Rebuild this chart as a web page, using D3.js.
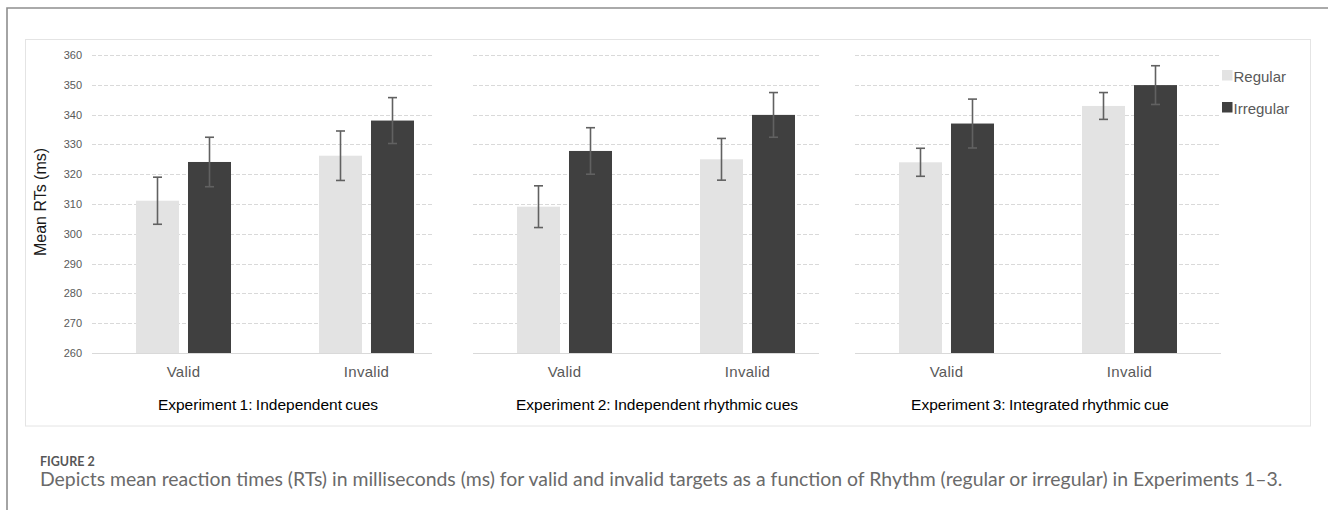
<!DOCTYPE html>
<html>
<head>
<meta charset="utf-8">
<script src="https://cdn.jsdelivr.net/npm/d3@7"></script>
<style>
  html, body { margin: 0; padding: 0; background: #fff; }
  svg { display: block; }
</style>
</head>
<body>
<svg id="chart" width="1328" height="510"></svg>
<script>
// ---------- DATA ----------
const experiments = ["Experiment 1: Independent cues", "Experiment 2: Independent rhythmic cues", "Experiment 3: Integrated rhythmic cue"];
const categories = ["Valid", "Invalid"];
const series = ["Regular", "Irregular"];
// mean RTs [experiment][category]
const regularMeans   = [[311.1, 326.2], [309.1, 325.0], [324.0, 342.9]];
const irregularMeans = [[324.1, 338.0], [327.8, 339.9], [337.0, 349.9]];
// error bar half-lengths
const regularErr     = [[7.9, 8.3], [7.0, 7.0], [4.7, 4.5]];
const irregularErr   = [[8.3, 7.7], [7.8, 7.5], [8.2, 6.5]];
const yTicks = [260, 270, 280, 290, 300, 310, 320, 330, 340, 350, 360];
const yAxisTitle = "Mean RTs (ms)";
const figLabel = "FIGURE 2";
const captionText = "Depicts mean reaction times (RTs) in milliseconds (ms) for valid and invalid targets as a function of Rhythm (regular or irregular) in Experiments 1\u20133.";

// ---------- LAYOUT ----------
const colors = { Regular: "#e3e3e3", Irregular: "#404040" };
const panelStart = [92, 473, 855];
const gridEnd = [432, 819, 1221];
const bandSpan = 366;
const titleCenter = [268, 657, 1040];
const font = "'Liberation Sans', Arial, sans-serif";

const svg = d3.select("#chart");

// outer frame (top + left)
svg.append("path").attr("d", "M7,510 V8 H1328").attr("fill", "none")
  .attr("stroke", "#8e8e8e").attr("stroke-width", 1.6);

// inner chart box
svg.append("rect").attr("x", 25.5).attr("y", 39.5).attr("width", 1285).attr("height", 386.5)
  .attr("fill", "#fff").attr("stroke", "#e4e4e4").attr("stroke-width", 1);

const y = d3.scaleLinear().domain([260, 360]).range([353, 55]);

// y axis labels
const yAxis = d3.axisLeft(y).tickValues(yTicks).tickSize(0).tickPadding(0).tickFormat(d3.format("d"));
const yg = svg.append("g").attr("transform", "translate(82,0)").call(yAxis);
yg.select(".domain").remove();
yg.selectAll("text").attr("font-family", font).attr("font-size", 11).attr("fill", "#595959");

svg.append("text")
  .attr("transform", `translate(46,${(55 + 353) / 2 - 2}) rotate(-90)`)
  .attr("text-anchor", "middle").attr("font-family", font).attr("font-size", 16)
  .attr("fill", "#1a1a1a").text(yAxisTitle);

experiments.forEach((exp, i) => {
  const g = svg.append("g");
  const x0 = d3.scaleBand().domain(categories).range([panelStart[i], panelStart[i] + bandSpan]);
  const x1 = d3.scaleBand().domain(series).range([-47.5, 47.5]).paddingInner(0.173);

  // gridlines
  g.selectAll("line.grid").data(yTicks.filter(t => t > 260)).join("line")
    .attr("x1", panelStart[i]).attr("x2", gridEnd[i])
    .attr("y1", d => Math.round(y(d)) + 0.5).attr("y2", d => Math.round(y(d)) + 0.5)
    .attr("stroke", "#d9d9d9").attr("stroke-width", 1).attr("stroke-dasharray", "4,2");

  // bars
  const rows = [];
  categories.forEach((c, j) => {
    rows.push({ cat: c, ser: "Regular", v: regularMeans[i][j], e: regularErr[i][j] });
    rows.push({ cat: c, ser: "Irregular", v: irregularMeans[i][j], e: irregularErr[i][j] });
  });
  const cx = d => x0(d.cat) + x0.bandwidth() / 2 + x1(d.ser);
  g.selectAll("rect.bar").data(rows).join("rect")
    .attr("x", d => cx(d)).attr("width", x1.bandwidth())
    .attr("y", d => y(d.v)).attr("height", d => y(260) - y(d.v))
    .attr("fill", d => colors[d.ser]);

  // baseline
  g.append("line").attr("x1", panelStart[i]).attr("x2", gridEnd[i])
    .attr("y1", y(260) + 0.5).attr("y2", y(260) + 0.5)
    .attr("stroke", "#d9d9d9").attr("stroke-width", 1.2);

  // error bars
  const eb = g.selectAll("g.err").data(rows).join("g")
    .attr("stroke", "#616161").attr("stroke-width", 1.6);
  const mx = d => cx(d) + x1.bandwidth() / 2;
  eb.append("line").attr("x1", mx).attr("x2", mx)
    .attr("y1", d => y(d.v + d.e)).attr("y2", d => y(d.v - d.e));
  eb.append("line").attr("x1", d => mx(d) - 4.5).attr("x2", d => mx(d) + 4.5)
    .attr("y1", d => y(d.v + d.e)).attr("y2", d => y(d.v + d.e));
  eb.append("line").attr("x1", d => mx(d) - 4.5).attr("x2", d => mx(d) + 4.5)
    .attr("y1", d => y(d.v - d.e)).attr("y2", d => y(d.v - d.e));

  // category labels
  g.selectAll("text.cat").data(categories).join("text")
    .attr("x", d => x0(d) + x0.bandwidth() / 2).attr("y", 377)
    .attr("text-anchor", "middle").attr("font-family", font).attr("font-size", 15)
    .attr("letter-spacing", 0.3)
    .attr("fill", "#595959").text(d => d);

  // panel title
  g.append("text").attr("x", titleCenter[i]).attr("y", 410)
    .attr("text-anchor", "middle").attr("font-family", font).attr("font-size", 15.5)
    .attr("word-spacing", -1)
    .attr("fill", "#000").text(exp);
});

// legend
const lg = svg.append("g");
series.forEach((s, k) => {
  const yy = 70 + k * 32;
  lg.append("rect").attr("x", 1222).attr("y", yy).attr("width", 10.5).attr("height", 10.5)
    .attr("fill", colors[s]);
  lg.append("text").attr("x", 1233.5).attr("y", yy + 11.5).attr("font-family", font)
    .attr("font-size", 15).attr("fill", "#595959").text(s);
});

// caption
svg.append("text").attr("x", 40).attr("y", 466).attr("font-family", "Lato, 'Open Sans', sans-serif")
  .attr("font-size", 12.5).attr("font-weight", 700).attr("fill", "#575757").text(figLabel);
const cap = svg.append("text").attr("x", 40).attr("y", 486)
  .attr("font-family", "Lato, 'Open Sans', sans-serif").attr("font-size", 16)
  .attr("fill", "#6a6a6a").text(captionText);
const w = cap.node().getComputedTextLength();
cap.attr("font-size", 16 * 1243 / w);
</script>
</body>
</html>
